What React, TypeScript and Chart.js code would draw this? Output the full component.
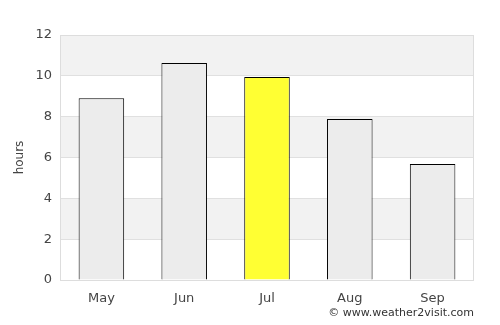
import React, { useEffect, useRef } from "react";
import { Chart, registerables } from "chart.js";

Chart.register(...registerables);

const months = ["May", "Jun", "Jul", "Aug", "Sep"];
const hours = [8.9, 10.63, 9.94, 7.88, 5.68];
const barColors = ["#ececec", "#ececec", "#ffff33", "#ececec", "#ececec"];
const yTicks = [0, 2, 4, 6, 8, 10, 12];
const bands = [[10, 12], [6, 8], [2, 4]];
const credit = "© www.weather2visit.com";

const FONT = "'DejaVu Sans', sans-serif";

const bgPlugin = {
  id: "bands",
  beforeDraw(chart: any) {
    const { ctx, chartArea, scales } = chart;
    const y = scales.y;
    ctx.save();
    ctx.fillStyle = "#f2f2f2";
    for (const [a, b] of bands) {
      const y1 = y.getPixelForValue(b);
      const y2 = y.getPixelForValue(a);
      ctx.fillRect(chartArea.left, y1, chartArea.right - chartArea.left, y2 - y1);
    }
    ctx.restore();
  },
  afterDraw(chart: any) {
    const { ctx, chartArea } = chart;
    ctx.save();
    ctx.strokeStyle = "#dddddd";
    ctx.lineWidth = 1;
    ctx.strokeRect(chartArea.left + 0.5, chartArea.top + 0.5, chartArea.right - chartArea.left - 1, chartArea.bottom - chartArea.top);
    ctx.fillStyle = "#333333";
    ctx.font = "11px " + FONT;
    ctx.textAlign = "right";
    ctx.textBaseline = "middle";
    ctx.fillText(credit, chartArea.right, 313);
    ctx.restore();
  },
};

export default function App() {
  const ref = useRef<HTMLCanvasElement>(null);
  useEffect(() => {
    const chart = new Chart(ref.current!, {
      type: "bar",
      data: {
        labels: months,
        datasets: [
          {
            data: hours,
            backgroundColor: barColors,
            borderColor: "#000000",
            borderWidth: 1,
            barPercentage: 0.55,
            categoryPercentage: 1,
          },
        ],
      },
      options: {
        animation: false,
        responsive: false,
        layout: { padding: { top: 35, right: 26, left: 13, bottom: 0 } },
        plugins: { legend: { display: false }, tooltip: { enabled: false } },
        scales: {
          x: {
            grid: { display: false },
            border: { display: false },
            ticks: { color: "#444444", font: { family: FONT, size: 13 }, padding: 3 },
            afterFit(scale: any) {
              scale.height = 45;
            },
          },
          y: {
            min: 0,
            max: 12,
            afterBuildTicks(scale: any) {
              scale.ticks = yTicks.map((v) => ({ value: v }));
            },
            grid: { color: "#e0e0e0", drawTicks: false },
            border: { display: false },
            ticks: { color: "#444444", font: { family: FONT, size: 13 }, padding: 8 },
            title: { display: true, text: "hours", color: "#444444", font: { family: FONT, size: 12 }, padding: 0 },
            afterFit(scale: any) {
              scale.width = 47;
            },
          },
        },
      },
      plugins: [bgPlugin],
    });
    return () => chart.destroy();
  }, []);
  return (
    <div style={{ position: "fixed", left: 0, top: 0, width: 500, height: 325, background: "#fff" }}>
      <canvas ref={ref} width={500} height={325} />
    </div>
  );
}
